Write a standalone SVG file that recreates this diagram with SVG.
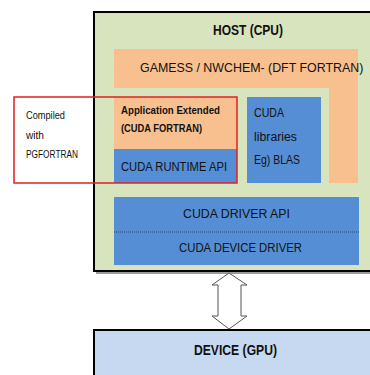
<svg xmlns="http://www.w3.org/2000/svg" width="370" height="375" viewBox="0 0 370 375">
<style>
.t{font-family:"Liberation Sans",Arial,sans-serif;fill:#111}
.b{font-weight:bold}
.orange{fill:#f9c08f}
.blue{fill:#558ed5}
</style>
<rect width="370" height="375" fill="#ffffff"/>
<g id="host">
<rect x="96" y="14" width="280" height="260" fill="#9a9a9a"/>
<rect x="94" y="12" width="280" height="259" fill="#d7e4bd" stroke="#000" stroke-width="2"/>
<text class="t b" x="213" y="35" font-size="14" textLength="70" lengthAdjust="spacingAndGlyphs">HOST (CPU)</text>
</g>
<g id="gamess">
<path class="orange" d="M114 49H358V183H329V88H114Z"/>
<text class="t" x="140" y="72" font-size="12.4">GAMESS / NWCHEM- (DFT FORTRAN)</text>
</g>
<g id="app">
<rect class="orange" x="114" y="97" width="123" height="52"/>
<text class="t b" x="121" y="114" font-size="10" textLength="99" lengthAdjust="spacingAndGlyphs">Application Extended</text>
<text class="t b" x="121" y="132" font-size="10" textLength="81" lengthAdjust="spacingAndGlyphs">(CUDA FORTRAN)</text>
</g>
<g id="runtime">
<rect class="blue" x="114" y="149" width="123" height="34"/>
<text class="t" x="121" y="171" font-size="12.5" textLength="106" lengthAdjust="spacingAndGlyphs">CUDA RUNTIME API</text>
</g>
<g id="libraries">
<rect class="blue" x="247" y="97" width="74" height="86"/>
<text class="t" x="254" y="117" font-size="12.5" textLength="30" lengthAdjust="spacingAndGlyphs">CUDA</text>
<text class="t" x="254" y="141" font-size="12.5" textLength="43" lengthAdjust="spacingAndGlyphs">libraries</text>
<text class="t" x="254" y="164" font-size="12.5" textLength="46" lengthAdjust="spacingAndGlyphs">Eg) BLAS</text>
</g>
<g id="driver">
<rect class="blue" x="114" y="197" width="245" height="68"/>
<line x1="114" y1="232" x2="359" y2="232" stroke="#2a4a70" stroke-width="1" stroke-dasharray="1 1"/>
<text class="t" x="183" y="218" font-size="12.5" textLength="107" lengthAdjust="spacingAndGlyphs">CUDA  DRIVER  API</text>
<text class="t" x="179" y="252" font-size="12.5" textLength="123" lengthAdjust="spacingAndGlyphs">CUDA  DEVICE  DRIVER</text>
</g>
<g id="compiled">
<rect x="14" y="97" width="223" height="86" fill="none" stroke="#e02020" stroke-width="1.5"/>
<text class="t" x="26" y="119" font-size="10" textLength="39" lengthAdjust="spacingAndGlyphs">Compiled</text>
<text class="t" x="26" y="139" font-size="10" textLength="18" lengthAdjust="spacingAndGlyphs">with</text>
<text class="t" x="26" y="158" font-size="10" textLength="52" lengthAdjust="spacingAndGlyphs">PGFORTRAN</text>
</g>
<g id="device">
<rect x="94" y="330" width="280" height="50" fill="#c6d9f1" stroke="#000" stroke-width="2"/>
<text class="t b" x="194" y="355" font-size="14" textLength="83" lengthAdjust="spacingAndGlyphs">DEVICE (GPU)</text>
</g>
<g id="connectors">
<path d="M229 273L247 285H241V316H247L229 329L212 316H218V285H212Z" fill="#ffffff" stroke="#555" stroke-width="1"/>
</g>
</svg>
